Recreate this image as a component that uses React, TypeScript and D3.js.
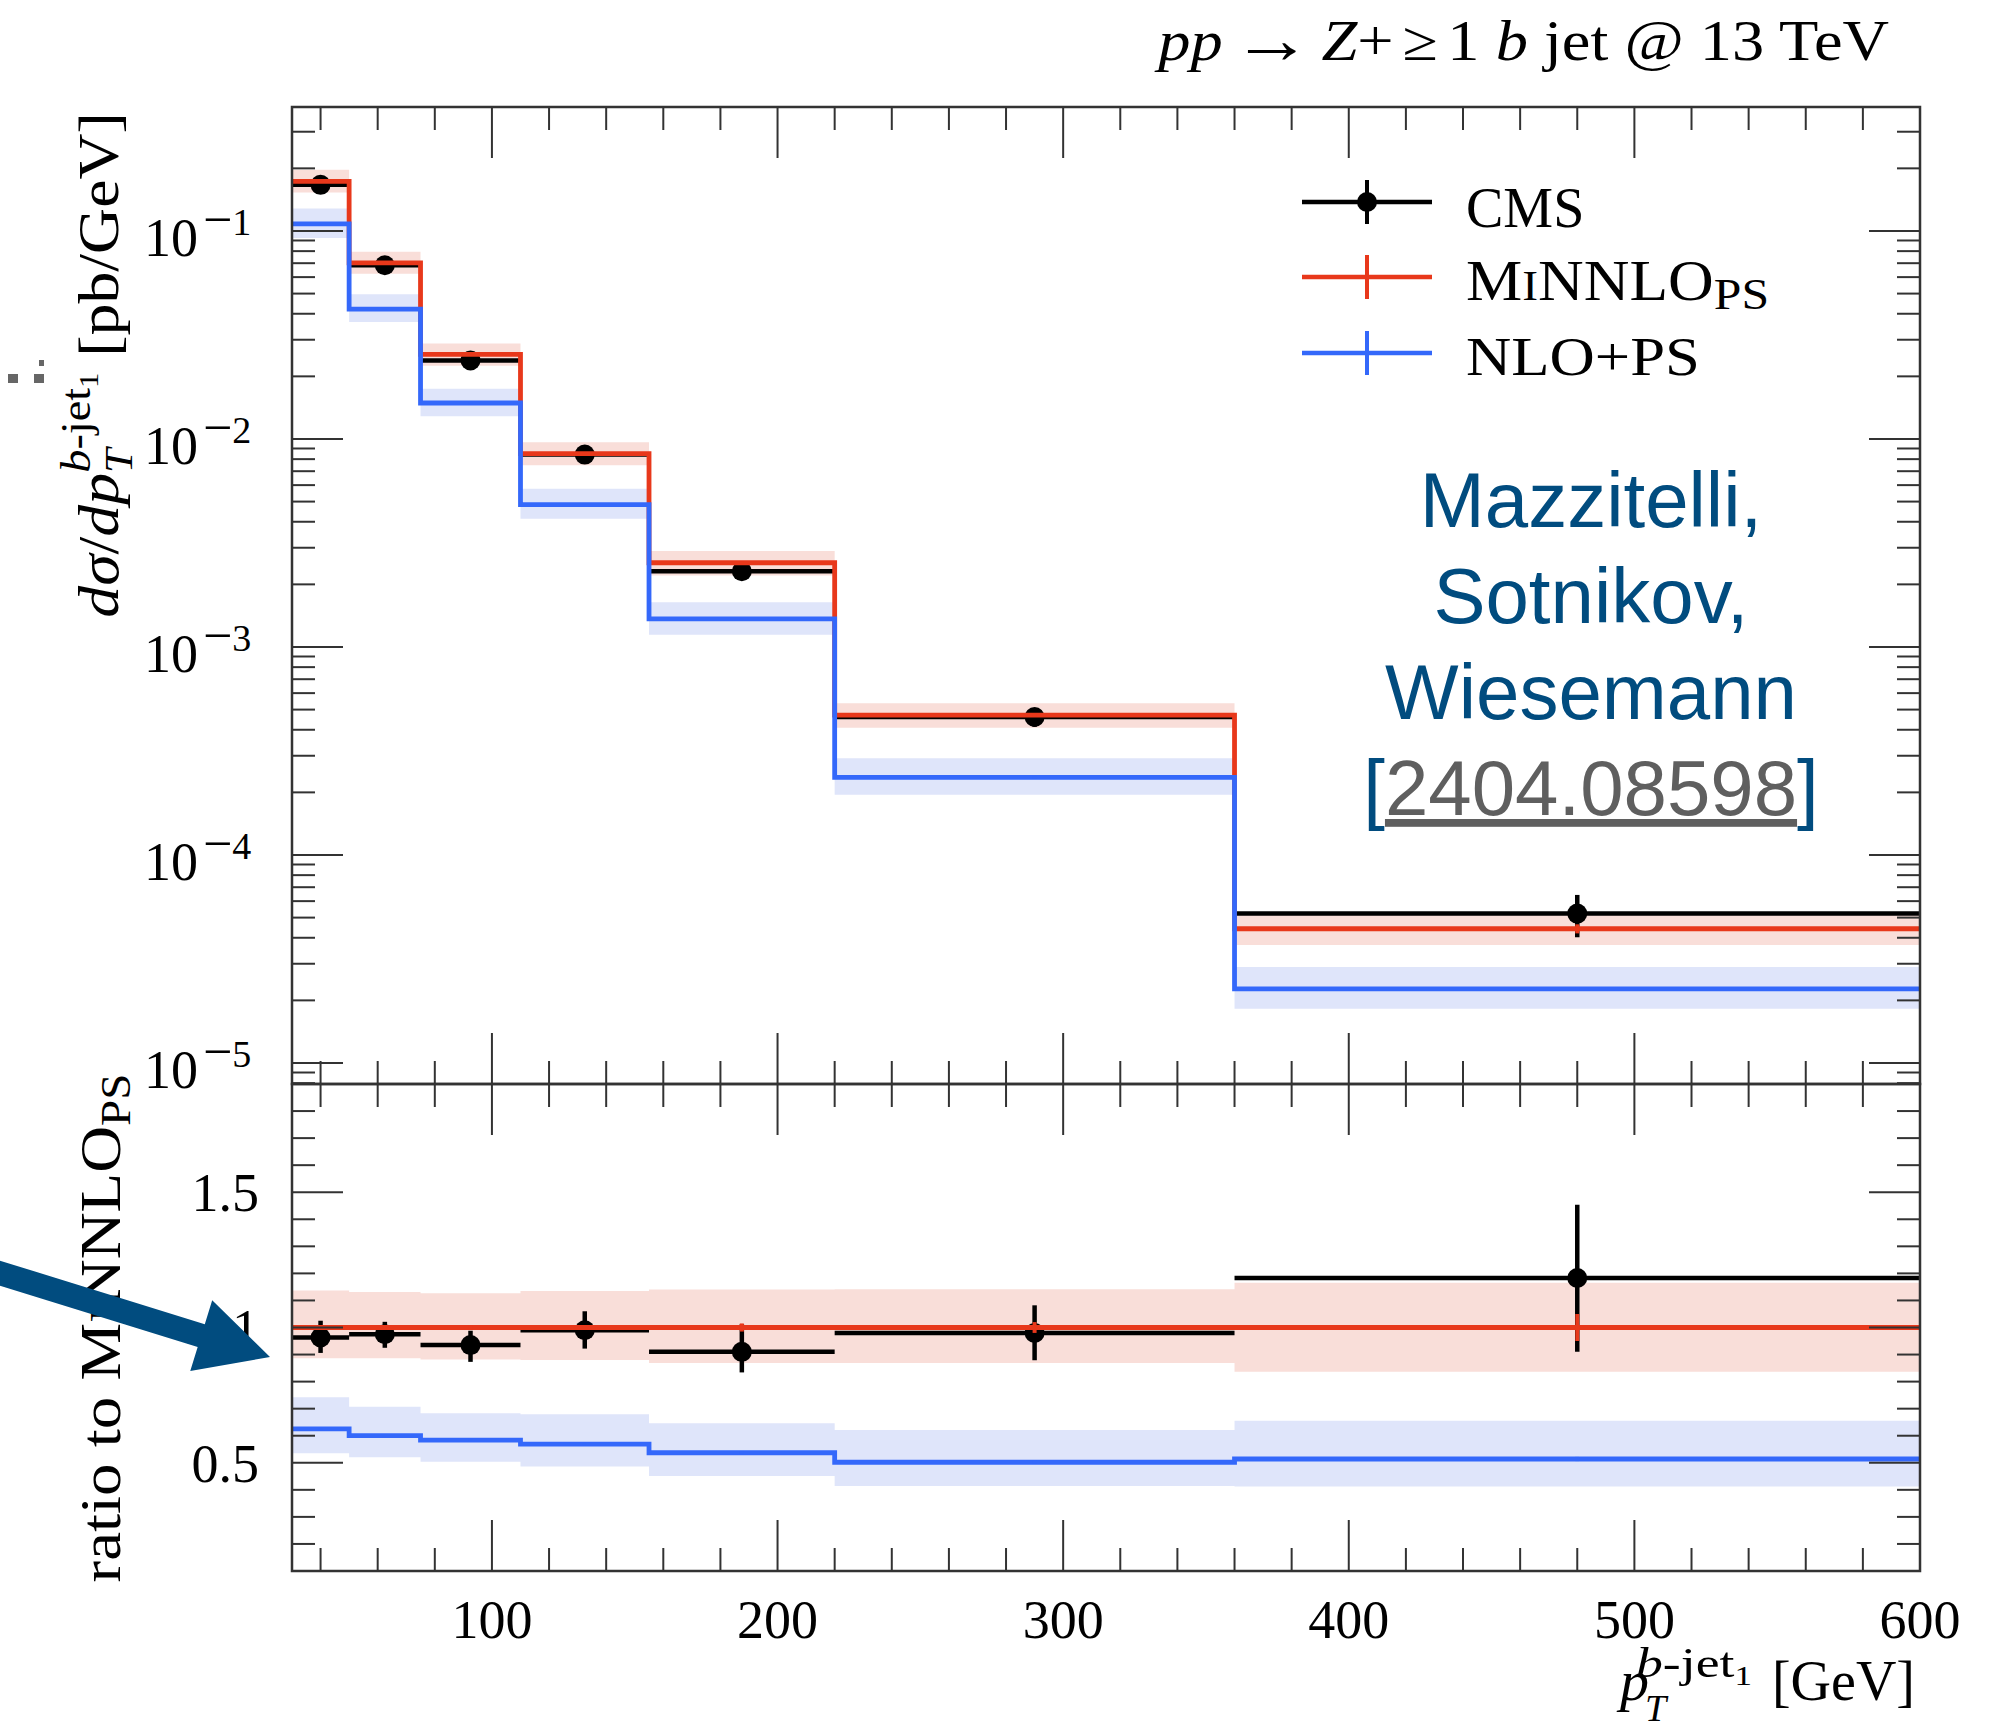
import React from 'react';
import * as d3 from 'd3';

// bin edges in GeV
const binEdges = [30, 50, 75, 110, 155, 220, 360, 600];

// MiNNLO_PS cross section [pb/GeV] and its band (relative to central)
const minnloXsec = [0.173, 0.0702, 0.0255, 0.0085, 0.00254, 4.7e-4, 4.42e-5];
const minnloLo = [0.886, 0.886, 0.882, 0.88, 0.869, 0.869, 0.836];
const minnloHi = [1.137, 1.131, 1.127, 1.135, 1.14, 1.141, 1.165];
const minnloStat = [0.006, 0.006, 0.006, 0.008, 0.015, 0.02, 0.05];

// NLO+PS, ratio to MiNNLO_PS
const nloRatio = [0.625, 0.6, 0.584, 0.569, 0.537, 0.502, 0.514];
const nloLo = [0.535, 0.52, 0.504, 0.486, 0.451, 0.414, 0.412];
const nloHi = [0.742, 0.707, 0.683, 0.679, 0.646, 0.621, 0.655];
const nloStat = [0.004, 0.004, 0.004, 0.005, 0.008, 0.01, 0.015];

// CMS data, ratio to MiNNLO_PS
const cmsRatio = [0.963, 0.975, 0.935, 0.99, 0.91, 0.98, 1.183];
const cmsLo = [0.906, 0.925, 0.873, 0.922, 0.834, 0.879, 0.91];
const cmsHi = [1.025, 1.021, 0.988, 1.06, 1.012, 1.082, 1.454];

const xTickLabels = [100, 200, 300, 400, 500, 600];
const mainDecades = [-5, -4, -3, -2, -1];
const ratioTickLabels = ['0.5', '1', '1.5'];

const W = 1992, H = 1723;
const L = 292, R = 1920, T = 107, M = 1084, B = 1571;
const RED = '#e8381b', BLUE = '#3468fa';
const RED_BAND = '#f9ded9', BLUE_BAND = '#dfe5fa';
const NAVY = '#014c7f';
const SERIF = '"Liberation Serif", "DejaVu Serif", serif';
const SANS = '"Liberation Sans", Arial, sans-serif';
const TICK = '#333';

const x = d3.scaleLinear().domain([30, 600]).range([L, R]);
const yMain = d3.scaleLog().domain([Math.pow(10, -5.101), Math.pow(10, -0.404)]).range([M, T]);
const yRatio = d3.scaleLinear().domain([0.1, 1.9]).range([B, M]);

const n = binEdges.length - 1;
const centers = d3.range(n).map(i => (binEdges[i] + binEdges[i + 1]) / 2);

const stepPts = (vals: number[]) =>
  [...vals.map((v, i) => [binEdges[i], v] as [number, number]), [binEdges[n], vals[n - 1]] as [number, number]];

const stepPath = (vals: number[], ys: any) =>
  d3.line<[number, number]>().x(d => x(d[0])).y(d => ys(d[1])).curve(d3.curveStepAfter)(stepPts(vals)) || '';

const bandPath = (lo: number[], hi: number[], ys: any) => {
  const pts = stepPts(lo).map((p, i) => ({ x: p[0], lo: p[1], hi: stepPts(hi)[i][1] }));
  return d3.area<any>().x(d => x(d.x)).y0(d => ys(d.lo)).y1(d => ys(d.hi)).curve(d3.curveStepAfter)(pts) || '';
};

const mul = (a: number[], b: number[]) => a.map((v, i) => v * b[i]);

// horizontal stretch around a given x
const hs = (x0: number, s: number) => `translate(${x0},0) scale(${s},1) translate(${-x0},0)`;

function XTicks({ y0, dir }: { y0: number; dir: number }) {
  const minor = d3.range(40, 600, 20).filter(v => v % 100 !== 0);
  return (
    <g stroke={TICK} strokeWidth={2}>
      {minor.map(v => <line key={'m' + v} x1={x(v)} x2={x(v)} y1={y0} y2={y0 + dir * 23} />)}
      {xTickLabels.map(v => <line key={'M' + v} x1={x(v)} x2={x(v)} y1={y0} y2={y0 + dir * 51} />)}
    </g>
  );
}

function YTicks({ values, ys, major }: { values: number[]; ys: any; major: (v: number) => boolean }) {
  return (
    <g stroke={TICK} strokeWidth={2}>
      {values.map((v, i) => {
        const len = major(v) ? 51 : 23;
        const yy = ys(v);
        return (
          <g key={i}>
            <line x1={L} x2={L + len} y1={yy} y2={yy} />
            <line x1={R} x2={R - len} y1={yy} y2={yy} />
          </g>
        );
      })}
    </g>
  );
}

function Cms({ vals, lo, hi, ys }: { vals: number[]; lo: number[]; hi: number[]; ys: any }) {
  return (
    <g stroke="#000" strokeWidth={4.5}>
      {vals.map((v, i) => (
        <g key={i}>
          <line x1={x(binEdges[i])} x2={x(binEdges[i + 1])} y1={ys(v)} y2={ys(v)} />
          <line x1={x(centers[i])} x2={x(centers[i])} y1={ys(lo[i])} y2={ys(hi[i])} />
          <circle cx={x(centers[i])} cy={ys(v)} r={10} fill="#000" stroke="none" />
        </g>
      ))}
    </g>
  );
}

function StatTicks({ vals, rel, ys, color }: { vals: number[]; rel: number[]; ys: any; color: string }) {
  return (
    <g stroke={color} strokeWidth={4}>
      {vals.map((v, i) => (
        <line key={i} x1={x(centers[i])} x2={x(centers[i])} y1={ys(v * (1 - rel[i]))} y2={ys(v * (1 + rel[i]))} />
      ))}
    </g>
  );
}

export default function App() {
  const mainMinor: number[] = [];
  for (let e = -6; e <= 0; e++) {
    for (let m = 1; m <= 9; m++) {
      const v = m * Math.pow(10, e);
      if (v >= yMain.domain()[0] && v <= yMain.domain()[1]) mainMinor.push(v);
    }
  }
  const isDecade = (v: number) => Math.abs(Math.log10(v) - Math.round(Math.log10(v))) < 1e-6;
  const ratioMinor = d3.range(2, 19).map(k => k / 10);

  const cmsXsec = mul(cmsRatio, minnloXsec);
  const cmsXLo = mul(cmsLo, minnloXsec);
  const cmsXHi = mul(cmsHi, minnloXsec);
  const nloXsec = mul(nloRatio, minnloXsec);
  const ones = minnloXsec.map(() => 1);

  // arrow geometry
  const tip = [270, 1357];
  const start = [-20, 1267];
  const dx = tip[0] - start[0], dy = tip[1] - start[1];
  const len = Math.hypot(dx, dy);
  const ux = dx / len, uy = dy / len, px = -uy, py = ux;
  const headLen = 72, headHalf = 37, shaftHalf = 12;
  const bx = tip[0] - ux * headLen, by = tip[1] - uy * headLen;
  const arrowPts = [
    [start[0] + px * shaftHalf, start[1] + py * shaftHalf],
    [bx + px * shaftHalf, by + py * shaftHalf],
    [bx + px * headHalf, by + py * headHalf],
    tip,
    [bx - px * headHalf, by - py * headHalf],
    [bx - px * shaftHalf, by - py * shaftHalf],
    [start[0] - px * shaftHalf, start[1] - py * shaftHalf],
  ];

  const legend = [
    { y: 202, color: '#000', kind: 'cms' },
    { y: 277, color: RED, kind: 'minnlo' },
    { y: 353, color: BLUE, kind: 'nlo' },
  ];

  return (
    <svg width={W} height={H} style={{ position: 'absolute', left: 0, top: 0, background: '#fff' }}>
      <rect width={W} height={H} fill="#fff" />

      {/* title */}
      <text x={1889} y={60} textAnchor="end" fontFamily={SERIF} fontSize={56} transform={hs(1889, 1.15)}>
        <tspan fontStyle="italic">pp</tspan>
        <tspan dx={8} fontSize={70} dy={3}>→</tspan>
        <tspan dx={8} dy={-3} fontStyle="italic">Z</tspan>
        <tspan>+</tspan>
        <tspan dx={8}>≥</tspan>
        <tspan dx={8}>1 </tspan>
        <tspan fontStyle="italic">b</tspan> jet @ 13 TeV
      </text>

      {/* main panel */}
      <g>
        <path d={bandPath(mul(nloLo, minnloXsec), mul(nloHi, minnloXsec), yMain)} fill={BLUE_BAND} />
        <path d={bandPath(mul(minnloLo, minnloXsec), mul(minnloHi, minnloXsec), yMain)} fill={RED_BAND} />
        <Cms vals={cmsXsec} lo={cmsXLo} hi={cmsXHi} ys={yMain} />
        <path d={stepPath(minnloXsec, yMain)} fill="none" stroke={RED} strokeWidth={4.8} />
        <StatTicks vals={minnloXsec} rel={minnloStat} ys={yMain} color={RED} />
        <path d={stepPath(nloXsec, yMain)} fill="none" stroke={BLUE} strokeWidth={4.8} />
        <StatTicks vals={nloXsec} rel={nloStat} ys={yMain} color={BLUE} />
      </g>

      {/* ratio panel */}
      <g>
        <path d={bandPath(nloLo, nloHi, yRatio)} fill={BLUE_BAND} />
        <path d={bandPath(minnloLo, minnloHi, yRatio)} fill={RED_BAND} />
        <Cms vals={cmsRatio} lo={cmsLo} hi={cmsHi} ys={yRatio} />
        <path d={stepPath(ones, yRatio)} fill="none" stroke={RED} strokeWidth={4.8} />
        <StatTicks vals={ones} rel={minnloStat} ys={yRatio} color={RED} />
        <path d={stepPath(nloRatio, yRatio)} fill="none" stroke={BLUE} strokeWidth={4.8} />
        <StatTicks vals={nloRatio} rel={nloStat} ys={yRatio} color={BLUE} />
      </g>

      {/* frames and ticks */}
      <XTicks y0={T} dir={1} />
      <XTicks y0={M} dir={-1} />
      <XTicks y0={M} dir={1} />
      <XTicks y0={B} dir={-1} />
      <YTicks values={mainMinor} ys={yMain} major={isDecade} />
      <YTicks values={ratioMinor} ys={yRatio} major={v => Math.abs(v * 2 - Math.round(v * 2)) < 1e-6} />
      <rect x={L} y={T} width={R - L} height={M - T} fill="none" stroke={TICK} strokeWidth={2.5} />
      <rect x={L} y={M} width={R - L} height={B - M} fill="none" stroke={TICK} strokeWidth={2.5} />

      {/* tick labels */}
      <g fontFamily={SERIF}>
        {mainDecades.map(e => {
          const yy = yMain(Math.pow(10, e));
          return (
            <g key={e}>
              <text x={198} y={yy + 25} textAnchor="end" fontSize={54}>10</text>
              <text x={203} y={yy + 4} fontSize={38}>
                <tspan fontSize={52} dy={2}>−</tspan>
                <tspan dy={-2}>{Math.abs(e)}</tspan>
              </text>
            </g>
          );
        })}
        {ratioTickLabels.map(s => (
          <text key={s} x={259} y={yRatio(+s) + 19} textAnchor="end" fontSize={54}>{s}</text>
        ))}
        {xTickLabels.map(v => (
          <text key={v} x={x(v)} y={1638} textAnchor="middle" fontSize={54}>{v}</text>
        ))}
      </g>

      {/* x axis title */}
      <g fontFamily={SERIF}>
        <text x={1620} y={1700} fontSize={58} fontStyle="italic">p</text>
        <text x={1645} y={1721} fontSize={38} fontStyle="italic">T</text>
        <text x={1636} y={1677} fontSize={43} transform={hs(1636, 1.25)}>
          <tspan fontStyle="italic">b</tspan>-jet<tspan fontSize={28} dy={8}>1</tspan>
        </text>
        <text x={1915} y={1700} fontSize={56} textAnchor="end">[GeV]</text>
      </g>

      {/* main y axis title */}
      <g transform="translate(118, 365) rotate(-90)">
        <text x={0} y={0} textAnchor="middle" fontFamily={SERIF} fontSize={58} transform="scale(1.1,1)">
          <tspan fontStyle="italic">dσ</tspan>/<tspan fontStyle="italic">dp</tspan>
          <tspan fontStyle="italic" fontSize={40} dy={14}>T</tspan>
          <tspan fontSize={42} dx={-22} dy={-42}><tspan fontStyle="italic">b</tspan>-jet</tspan>
          <tspan fontSize={28} dy={8}>1</tspan>
          <tspan fontSize={58} dy={20}> [pb/GeV]</tspan>
        </text>
      </g>

      {/* ratio y axis title */}
      <g transform="translate(120, 1328) rotate(-90)">
        <text x={0} y={0} textAnchor="middle" fontFamily={SERIF} fontSize={58} transform="scale(1.12,1)">
          ratio to M<tspan fontSize={44}>I</tspan>NNLO<tspan fontSize={42} dy={10}>PS</tspan>
        </text>
      </g>

      {/* artefact marks left of y title */}
      <g fill="#666">
        <rect x={8} y={374} width={10} height={9} />
        <rect x={34} y={374} width={10} height={9} />
        <rect x={39} y={360} width={5} height={6} />
      </g>

      {/* legend */}
      <g>
        {legend.map(it => (
          <g key={it.kind}>
            <line x1={1302} x2={1432} y1={it.y} y2={it.y} stroke={it.color} strokeWidth={4.5} />
            <line x1={1367} x2={1367} y1={it.y - 22} y2={it.y + 22} stroke={it.color} strokeWidth={4} />
            {it.kind === 'cms' && <circle cx={1367} cy={it.y} r={10} fill="#000" />}
          </g>
        ))}
        <g fontFamily={SERIF} fontSize={56}>
          <text x={1466} y={227}>CMS</text>
          <text x={1466} y={300} transform={hs(1466, 1.13)}>
            M<tspan fontSize={42}>I</tspan>NNLO<tspan fontSize={44} dy={9}>PS</tspan>
          </text>
          <text x={1466} y={375} transform={hs(1466, 1.12)}>NLO+PS</text>
        </g>
      </g>

      {/* annotation */}
      <g fontFamily={SANS} fontSize={78} textAnchor="middle" fill={NAVY}>
        <text x={1591} y={527}>Mazzitelli,</text>
        <text x={1591} y={623}>Sotnikov,</text>
        <text x={1591} y={719}>Wiesemann</text>
        <text x={1591} y={815}>
          [<tspan fill="#5f5f5f" textDecoration="underline">2404.08598</tspan>]
        </text>
      </g>

      {/* arrow */}
      <polygon points={arrowPts.map(p => p.join(',')).join(' ')} fill={NAVY} />
    </svg>
  );
}
